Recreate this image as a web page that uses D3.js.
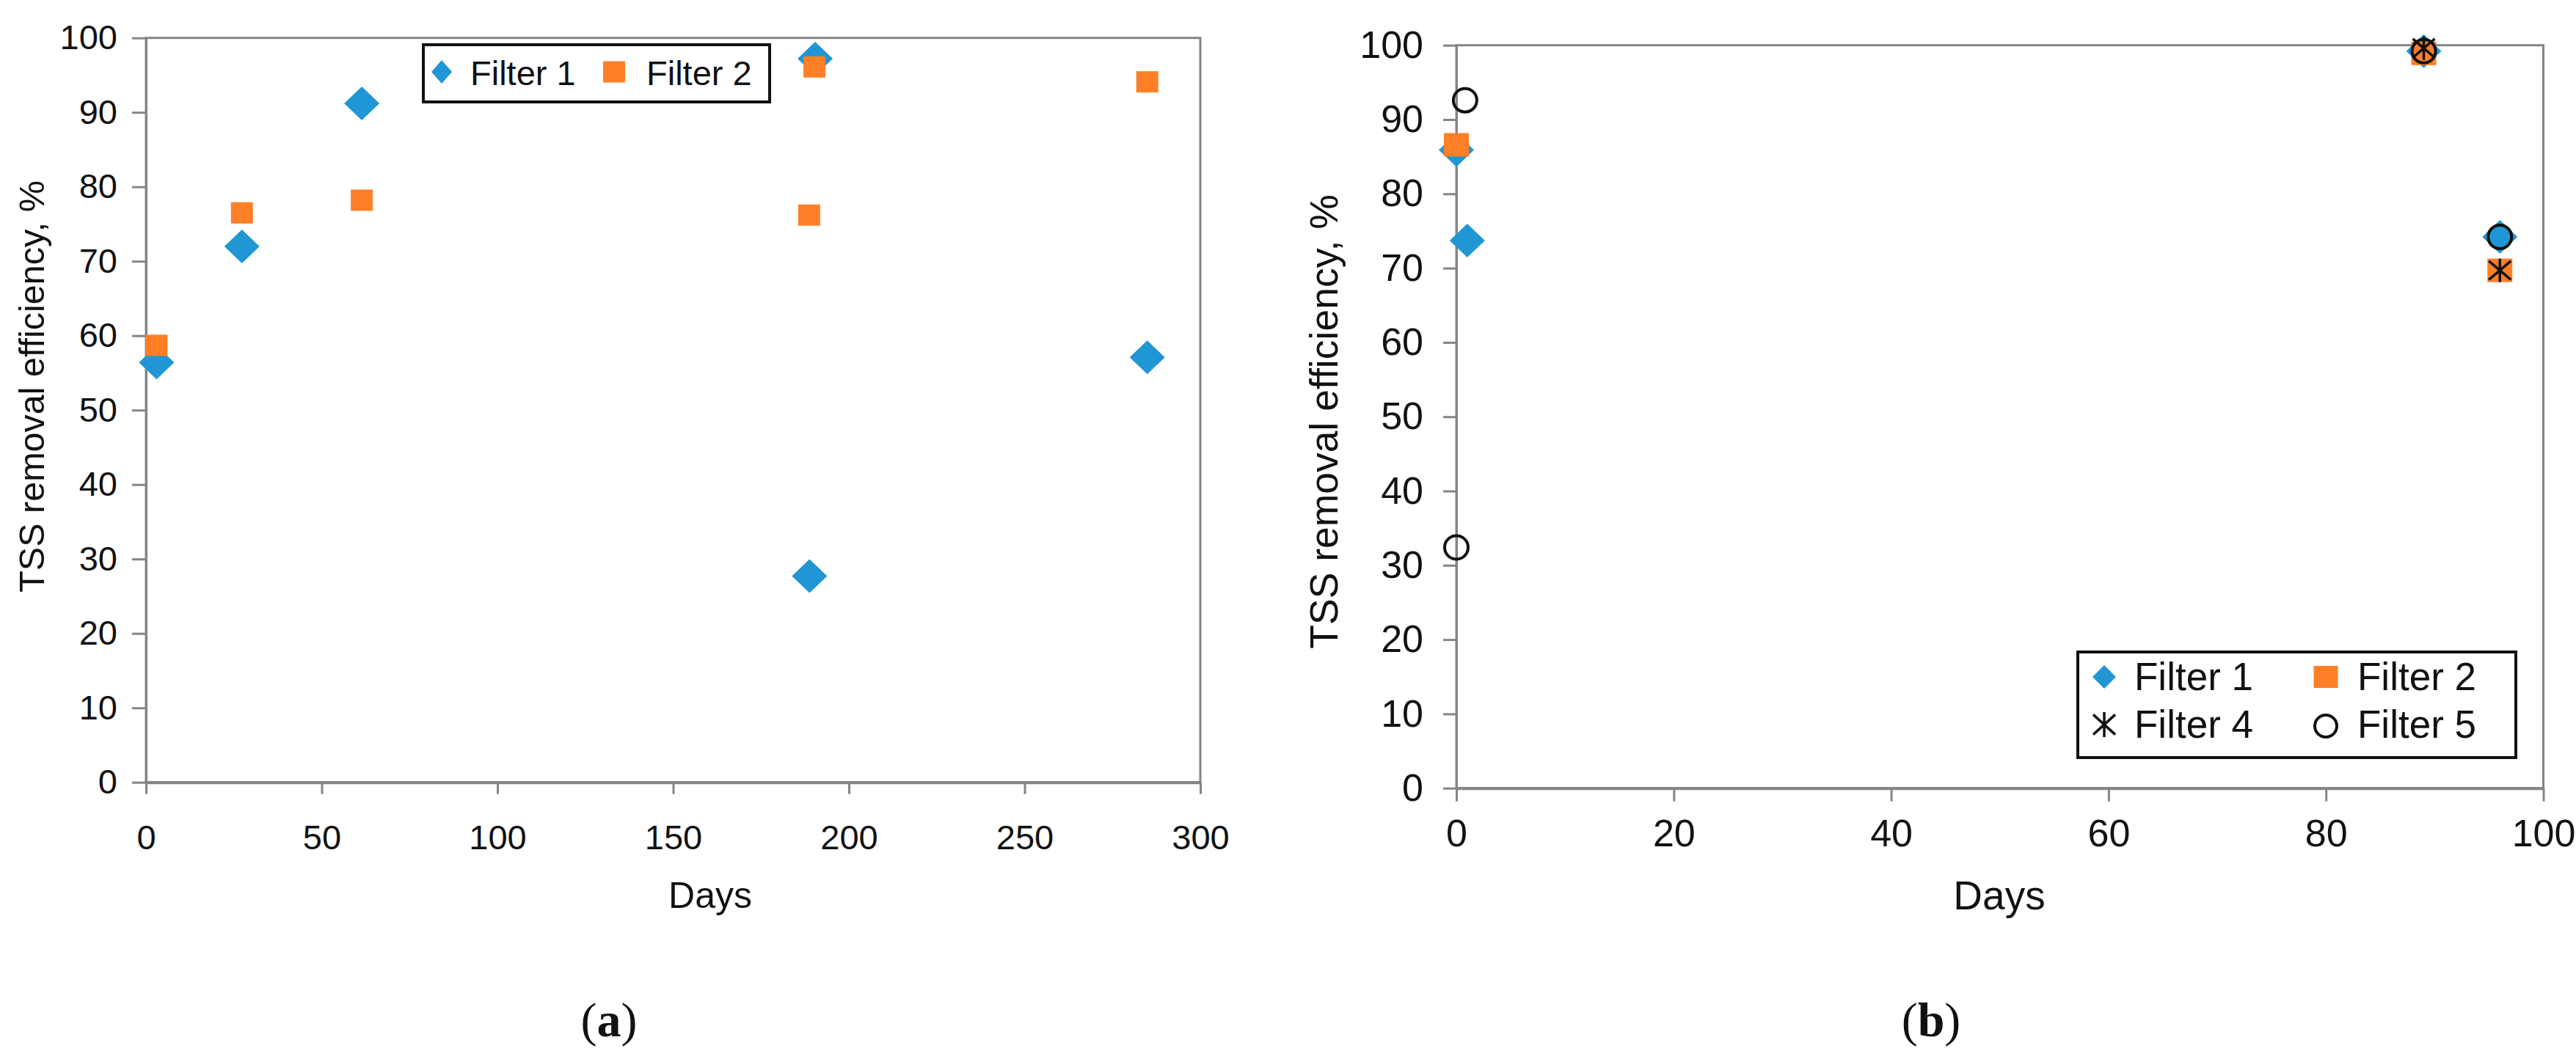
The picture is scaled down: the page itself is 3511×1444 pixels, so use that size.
<!DOCTYPE html>
<html><head><meta charset="utf-8">
<script src="https://cdn.jsdelivr.net/npm/d3@7"></script>
<style>
body{margin:0;background:#fff}
svg text{font-family:"Liberation Sans",Arial,sans-serif;fill:#111}
</style>
</head><body>
<svg id="chart" width="3511" height="1444"></svg>
<script>
// ---------- data (a) ----------
const daysA1 = [3, 27.3, 61.4, 190.4, 188.8, 284.9];
const filter1A = [56.4, 72.0, 91.2, 97.2, 27.7, 57.1];
const daysA2 = [3, 27.3, 61.4, 190.2, 188.7, 284.9];
const filter2A = [58.7, 76.5, 78.2, 96.1, 76.2, 94.1];
// ---------- data (b) ----------
const daysB1 = [0, 1.0, 89, 96];
const filter1B = [85.9, 73.7, 99.2, 74.2];
const daysB2 = [0, 89, 96];
const filter2B = [86.6, 98.9, 69.7];
const daysB4 = [89, 96];
const filter4B = [99.6, 69.7];
const daysB5 = [0.8, 0, 89, 96];
const filter5B = [92.6, 32.4, 99.2, 74.2];
// ---------- ticks / labels ----------
const yTicks = [0,10,20,30,40,50,60,70,80,90,100];
const xTicksA = [0,50,100,150,200,250,300];
const xTicksB = [0,20,40,60,80,100];
const yTitle = "TSS removal efficiency, %";
const xTitle = "Days";

const BLUE = "#2196d4", ORANGE = "#ff7f27", AXIS = "#858585";
const svg = d3.select("#chart");

function drawMarker(g, type, cx, cy, s) {
  if (type === "diamond") {
    const p = d3.path();
    p.moveTo(cx, cy - s.h); p.lineTo(cx + s.w, cy); p.lineTo(cx, cy + s.h); p.lineTo(cx - s.w, cy); p.closePath();
    g.append("path").attr("d", p.toString()).attr("fill", BLUE);
  } else if (type === "square") {
    g.append("rect").attr("x", cx - s.w).attr("y", cy - s.h).attr("width", 2*s.w).attr("height", 2*s.h).attr("fill", ORANGE);
  } else if (type === "star") {
    const p = d3.path();
    p.moveTo(cx, cy - s.h); p.lineTo(cx, cy + s.h);
    p.moveTo(cx - s.w, cy - s.h*0.8); p.lineTo(cx + s.w, cy + s.h*0.8);
    p.moveTo(cx - s.w, cy + s.h*0.8); p.lineTo(cx + s.w, cy - s.h*0.8);
    g.append("path").attr("d", p.toString()).attr("stroke", "#111").attr("stroke-width", 3.5).attr("fill", "none");
  } else if (type === "circle") {
    g.append("circle").attr("cx", cx).attr("cy", cy).attr("r", s.w).attr("fill", "none").attr("stroke", "#111").attr("stroke-width", 4);
  }
}

function panel(c) {
  const x = d3.scaleLinear().domain(c.xDomain).range([c.left, c.right]);
  const y = d3.scaleLinear().domain([0, 100]).range([c.bottom, c.top]);
  const g = svg.append("g");

  // frame
  g.append("rect").attr("x", c.left).attr("y", c.top).attr("width", c.right - c.left).attr("height", c.bottom - c.top)
    .attr("fill", "none").attr("stroke", AXIS).attr("stroke-width", 3);

  // y axis
  const ya = g.append("g").attr("transform", `translate(${c.left},0)`)
    .call(d3.axisLeft(y).tickValues(yTicks).tickSize(c.yTick).tickSizeOuter(0).tickPadding(c.yPad));
  ya.select(".domain").attr("stroke", AXIS).attr("stroke-width", 3);
  ya.selectAll(".tick line").attr("stroke", AXIS).attr("stroke-width", 3);
  ya.selectAll(".tick text").attr("font-size", c.fs).attr("font-family", "Liberation Sans, Arial, sans-serif").attr("fill", "#111");

  // x axis
  const xa = g.append("g").attr("transform", `translate(0,${c.bottom})`)
    .call(d3.axisBottom(x).tickValues(c.xTicks).tickSize(c.xTick).tickSizeOuter(0));
  xa.select(".domain").attr("stroke", AXIS).attr("stroke-width", 4);
  xa.selectAll(".tick line").attr("stroke", AXIS).attr("stroke-width", 3);
  xa.selectAll(".tick text").attr("font-size", c.fs).attr("font-family", "Liberation Sans, Arial, sans-serif")
    .attr("fill", "#111").attr("y", c.xLabOff).attr("dy", null);

  // titles
  g.append("text").attr("transform", `translate(${c.yTitleX},${c.yTitleY}) rotate(-90)`)
    .attr("text-anchor", "middle").attr("dy", "0.35em").attr("font-size", c.yTitleFs).text(yTitle);
  g.append("text").attr("x", c.xTitleX).attr("y", c.xTitleY).attr("text-anchor", "middle")
    .attr("font-size", c.xTitleFs).text(xTitle);
  const cap = g.append("text").attr("x", c.capX).attr("y", 1413).attr("text-anchor", "middle")
    .attr("font-size", 66).style("font-family", "Liberation Serif, 'Times New Roman', serif");
  cap.append("tspan").text("(");
  cap.append("tspan").attr("font-weight", "bold").text(c.cap);
  cap.append("tspan").text(")");

  // data
  const mg = g.append("g");
  c.series.forEach(s => {
    s.days.forEach((d, i) => drawMarker(mg, s.type, x(d), y(s.vals[i]), s.size));
  });

  // legend
  const L = c.legend;
  g.append("rect").attr("x", L.x).attr("y", L.y).attr("width", L.w).attr("height", L.h)
    .attr("fill", "#fff").attr("stroke", "#111").attr("stroke-width", 4);
  L.items.forEach(it => {
    drawMarker(g, it.type, it.mx, it.my, it.size);
    g.append("text").attr("x", it.tx).attr("y", it.ty).attr("font-size", L.fs).text(it.label);
  });
}

panel({
  left: 199, right: 1636, top: 51.7, bottom: 1066.7, xDomain: [0, 300], xTicks: xTicksA,
  yTick: 19, yPad: 20, xTick: 16, xLabOff: 91, fs: 47,
  yTitleX: 43, yTitleY: 527, yTitleFs: 48.5, xTitleX: 968, xTitleY: 1238, xTitleFs: 50,
  capX: 830, cap: "a",
  series: [
    {type: "diamond", days: daysA1, vals: filter1A, size: {w: 24, h: 23}},
    {type: "square", days: daysA2, vals: filter2A, size: {w: 15, h: 14.5}}
  ],
  legend: {x: 577, y: 61, w: 472, h: 78, fs: 47, items: [
    {type: "diamond", mx: 602, my: 98, size: {w: 14, h: 16}, tx: 641, ty: 116, label: "Filter 1"},
    {type: "square", mx: 837, my: 98, size: {w: 15, h: 14.5}, tx: 881, ty: 116, label: "Filter 2"}
  ]}
});

panel({
  left: 1985, right: 3466.5, top: 61.7, bottom: 1074.7, xDomain: [0, 100], xTicks: xTicksB,
  yTick: 18, yPad: 27, xTick: 18, xLabOff: 79, fs: 52,
  yTitleX: 1804, yTitleY: 575, yTitleFs: 53.5, xTitleX: 2725, xTitleY: 1240, xTitleFs: 55,
  capX: 2632, cap: "b",
  series: [
    {type: "diamond", days: daysB1, vals: filter1B, size: {w: 24, h: 23}},
    {type: "square", days: daysB2, vals: filter2B, size: {w: 17, h: 16}},
    {type: "star", days: daysB4, vals: filter4B, size: {w: 15, h: 16}},
    {type: "circle", days: daysB5, vals: filter5B, size: {w: 16, h: 16}}
  ],
  legend: {x: 2832, y: 889, w: 597, h: 144, fs: 53, items: [
    {type: "diamond", mx: 2868, my: 923, size: {w: 16, h: 16}, tx: 2909, ty: 941, label: "Filter 1"},
    {type: "square", mx: 3170, my: 923, size: {w: 16.5, h: 15}, tx: 3213, ty: 941, label: "Filter 2"},
    {type: "star", mx: 2868, my: 988, size: {w: 15, h: 17}, tx: 2909, ty: 1006, label: "Filter 4"},
    {type: "circle", mx: 3170, my: 990, size: {w: 15, h: 15}, tx: 3213, ty: 1006, label: "Filter 5"}
  ]}
});
</script>
</body></html>
